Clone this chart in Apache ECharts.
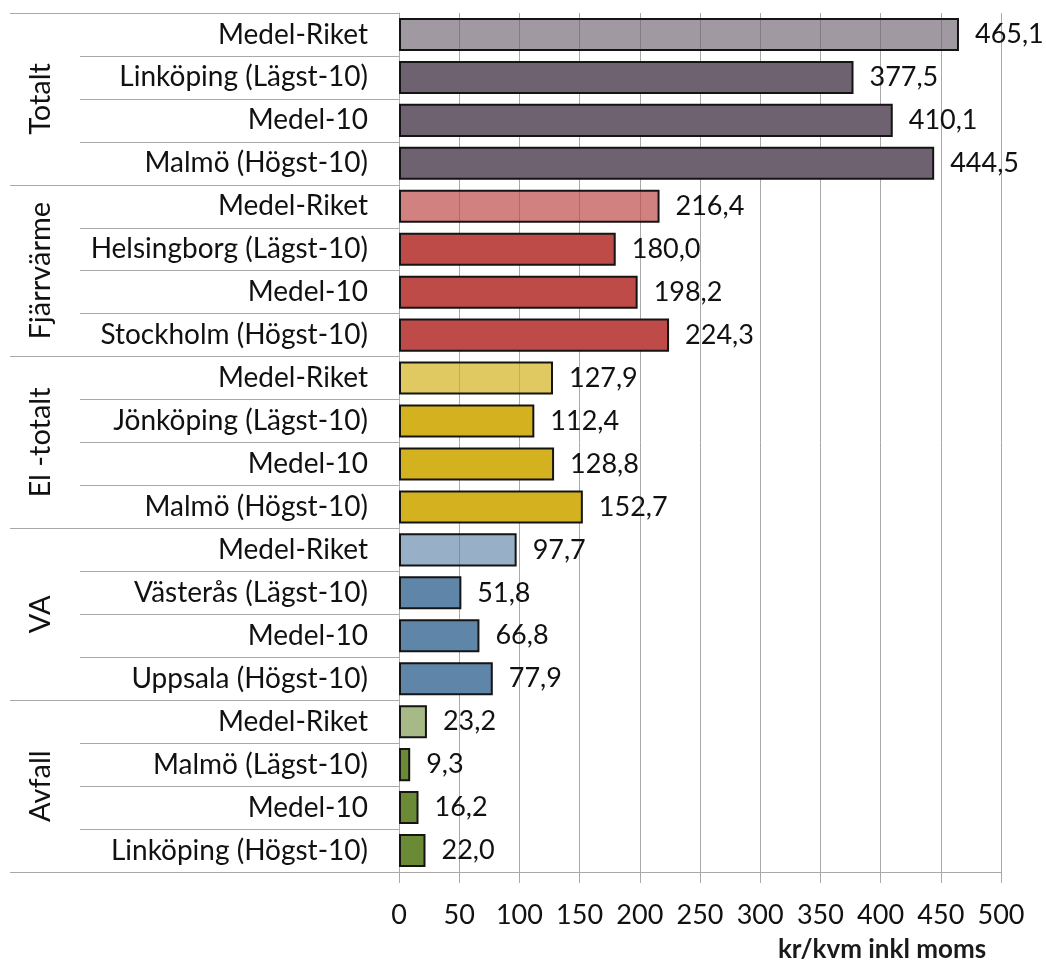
<!DOCTYPE html>
<html>
<head>
    <meta charset="utf-8">
    <title>kr/kvm inkl moms</title>
    <script src="https://cdn.jsdelivr.net/npm/echarts@6/dist/echarts.min.js"></script>
    <style>
        html, body {margin: 0; padding: 0; background: #fff;}
        #main {width: 1046px; height: 962px;}
    </style>
</head>
<body>
<div id="main"></div>
<script type="text/javascript">
    // data
    var groups = ['Totalt', 'Fjärrvärme', 'El -totalt', 'VA', 'Avfall'];
    var categories = [
        'Medel-Riket', 'Linköping (Lägst-10)', 'Medel-10', 'Malmö (Högst-10)',
        'Medel-Riket', 'Helsingborg (Lägst-10)', 'Medel-10', 'Stockholm (Högst-10)',
        'Medel-Riket', 'Jönköping (Lägst-10)', 'Medel-10', 'Malmö (Högst-10)',
        'Medel-Riket', 'Västerås (Lägst-10)', 'Medel-10', 'Uppsala (Högst-10)',
        'Medel-Riket', 'Malmö (Lägst-10)', 'Medel-10', 'Linköping (Högst-10)'
    ];
    var values = [
        465.1, 377.5, 410.1, 444.5,
        216.4, 180.0, 198.2, 224.3,
        127.9, 112.4, 128.8, 152.7,
        97.7, 51.8, 66.8, 77.9,
        23.2, 9.3, 16.2, 22.0
    ];
    var xTicks = [0, 500, 50];  // min, max, step

    // colours per group (solid, and the lighter Medel-Riket bar)
    var groupColors = ['#6e6270', '#be4b48', '#d4b21f', '#5f85a9', '#6a8a35'];
    var groupColorsLight = ['rgba(110,98,112,0.65)', 'rgba(190,75,72,0.7)', 'rgba(212,178,31,0.7)', 'rgba(95,133,169,0.65)', 'rgba(106,138,53,0.6)'];

    var font = 'Lato, "Open Sans", sans-serif';
    var gridGray = '#a9a9a9';

    var barData = values.map(function (v, i) {
        var g = Math.floor(i / 4);
        return {
            value: v,
            itemStyle: {color: (i % 4 === 0) ? groupColorsLight[g] : groupColors[g]}
        };
    });

    var myChart = echarts.init(document.getElementById('main'));
    var option = {
        animation: false,
        grid: {left: 399, right: 45, top: 13, bottom: 90, containLabel: false, outerBoundsMode: 'none'},
        xAxis: {
            type: 'value',
            min: xTicks[0],
            max: xTicks[1],
            interval: xTicks[2],
            name: 'kr/kvm inkl moms',
            nameLocation: 'middle',
            nameGap: 64,
            nameTextStyle: {
                fontFamily: font, fontSize: 26, fontWeight: 'bold', color: '#1a1a1a',
                lineHeight: 28, padding: [0, 0, 0, 364]
            },
            axisLine: {show: true, lineStyle: {color: gridGray}},
            axisTick: {show: true, length: 11, lineStyle: {color: gridGray}},
            axisLabel: {fontFamily: font, fontSize: 27, color: '#111', margin: 30, hideOverlap: false},
            splitLine: {show: true, lineStyle: {color: gridGray, width: 1}}
        },
        yAxis: [
            {
                type: 'category',
                data: categories,
                inverse: true,
                position: 'left',
                axisLine: {show: true, lineStyle: {color: gridGray}},
                axisTick: {show: true, length: 319, interval: 0, lineStyle: {color: gridGray}},
                axisLabel: {fontFamily: font, fontSize: 28, color: '#111', margin: 31, interval: 0}
            },
            {
                // group names, one per four categories
                type: 'category',
                data: groups,
                inverse: true,
                position: 'left',
                axisLine: {show: false},
                axisTick: {show: true, length: 389, interval: 0, lineStyle: {color: gridGray}},
                axisLabel: {fontFamily: font, fontSize: 29, color: '#111', rotate: 90, margin: 344, interval: 0}
            }
        ],
        series: [
            {
                type: 'bar',
                yAxisIndex: 0,
                data: barData,
                barCategoryGap: '23%',
                itemStyle: {borderColor: '#141414', borderWidth: 2},
                label: {
                    show: true,
                    position: 'right',
                    distance: 16,
                    fontFamily: font,
                    fontSize: 27,
                    color: '#111',
                    formatter: function (p) {
                        return p.value.toFixed(1).replace('.', ',');
                    }
                }
            }
        ]
    };
    myChart.setOption(option);
</script>
</body>
</html>
